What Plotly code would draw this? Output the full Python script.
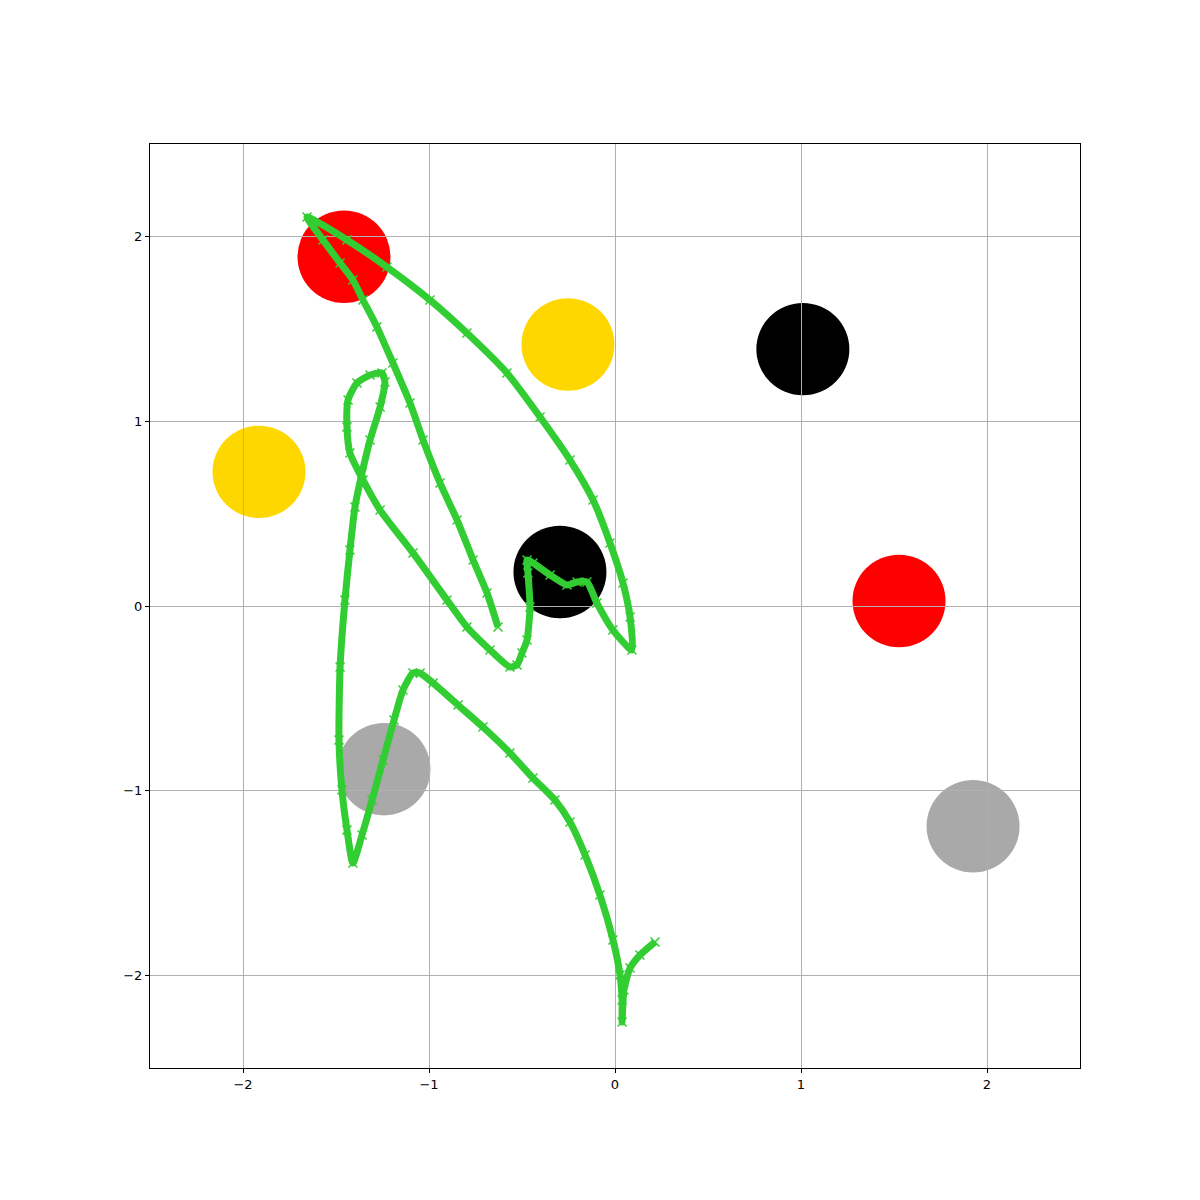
import plotly.graph_objects as go

# Obstacles (circle centres, radius, colours)
circle_x = [-1.457, -0.253, 1.010, -1.914, -0.296, 1.527, -1.242, 1.925]
circle_y = [1.890, 1.415, 1.390, 0.726, 0.184, 0.027, -0.883, -1.192]
circle_r = [0.25, 0.25, 0.25, 0.25, 0.25, 0.25, 0.25, 0.25]
circle_color = ["#ff0000", "#ffd700", "#000000", "#ffd700", "#000000", "#ff0000", "#a9a9a9", "#a9a9a9"]

# Trajectory
path_x = [-0.629, -0.688, -0.763, -0.849, -0.941, -1.032, -1.102, -1.194, -1.280, -1.355,
          -1.409, -1.478, -1.570, -1.656,
          -1.441, -1.226, -0.995, -0.796, -0.581, -0.403, -0.242, -0.118, -0.027, 0.043,
          0.081, 0.091,
          -0.011, -0.097, -0.151, -0.204, -0.258, -0.349, -0.441, -0.473, -0.468, -0.457,
          -0.473, -0.500, -0.527, -0.565,
          -0.672, -0.796, -0.903, -1.086, -1.263, -1.355, -1.425, -1.441, -1.435, -1.387,
          -1.317, -1.253, -1.237, -1.263, -1.317, -1.360, -1.398, -1.425, -1.452, -1.478,
          -1.484, -1.468, -1.441, -1.409,
          -1.360, -1.306, -1.247, -1.188, -1.140, -1.086, -1.048, -0.978, -0.844, -0.710,
          -0.565, -0.441, -0.323, -0.242, -0.161, -0.081, -0.011, 0.027, 0.038, 0.038,
          0.048, 0.081, 0.134, 0.215]
path_y = [-0.114, 0.070, 0.249, 0.465, 0.666, 0.898, 1.098, 1.315, 1.510, 1.656,
          1.764, 1.856, 1.981, 2.105,
          1.981, 1.834, 1.656, 1.477, 1.261, 1.023, 0.790, 0.574, 0.341, 0.124,
          -0.060, -0.238,
          -0.130, 0.016, 0.130, 0.130, 0.114, 0.168, 0.233, 0.249, 0.179, -0.005,
          -0.184, -0.254, -0.319, -0.330,
          -0.238, -0.114, 0.032, 0.287, 0.519, 0.682, 0.828, 0.969, 1.115, 1.207,
          1.250, 1.261, 1.212, 1.077, 0.898, 0.720, 0.536, 0.303, 0.032, -0.330,
          -0.725, -0.996, -1.212, -1.391,
          -1.239, -1.050, -0.833, -0.617, -0.455, -0.363, -0.363, -0.417, -0.536, -0.655,
          -0.795, -0.931, -1.050, -1.169, -1.347, -1.564, -1.807, -1.997, -2.132, -2.251,
          -2.078, -1.959, -1.889, -1.818]

tick_vals = [-2, -1, 0, 1, 2]

fig = go.Figure()

shapes = []
for cx, cy, r, c in zip(circle_x, circle_y, circle_r, circle_color):
    shapes.append(dict(type="circle", xref="x", yref="y",
                       x0=cx - r, x1=cx + r, y0=cy - r, y1=cy + r,
                       fillcolor=c, line=dict(width=0), layer="below"))

fig.add_trace(go.Scatter(
    x=path_x, y=path_y, mode="lines+markers",
    line=dict(color="#32cd32", width=7, shape="spline", smoothing=0.6),
    marker=dict(symbol="x-thin", size=9, line=dict(color="#32cd32", width=1.5)),
    showlegend=False, hoverinfo="skip"))

axis_common = dict(
    range=[-2.5, 2.5], tickvals=tick_vals, showgrid=True, gridcolor="#b0b0b0", gridwidth=1,
    zeroline=False, showline=True, linecolor="black", linewidth=1, mirror=True,
    ticks="outside", ticklen=4, tickcolor="black", tickwidth=1,
    tickfont=dict(family="DejaVu Sans", size=13, color="black"),
)

fig.update_layout(
    width=1200, height=1200,
    margin=dict(l=150, r=120, t=144, b=132, pad=0),
    paper_bgcolor="white", plot_bgcolor="white",
    shapes=shapes,
    xaxis=axis_common,
    yaxis=axis_common,
)

fig.write_html("out.html")
